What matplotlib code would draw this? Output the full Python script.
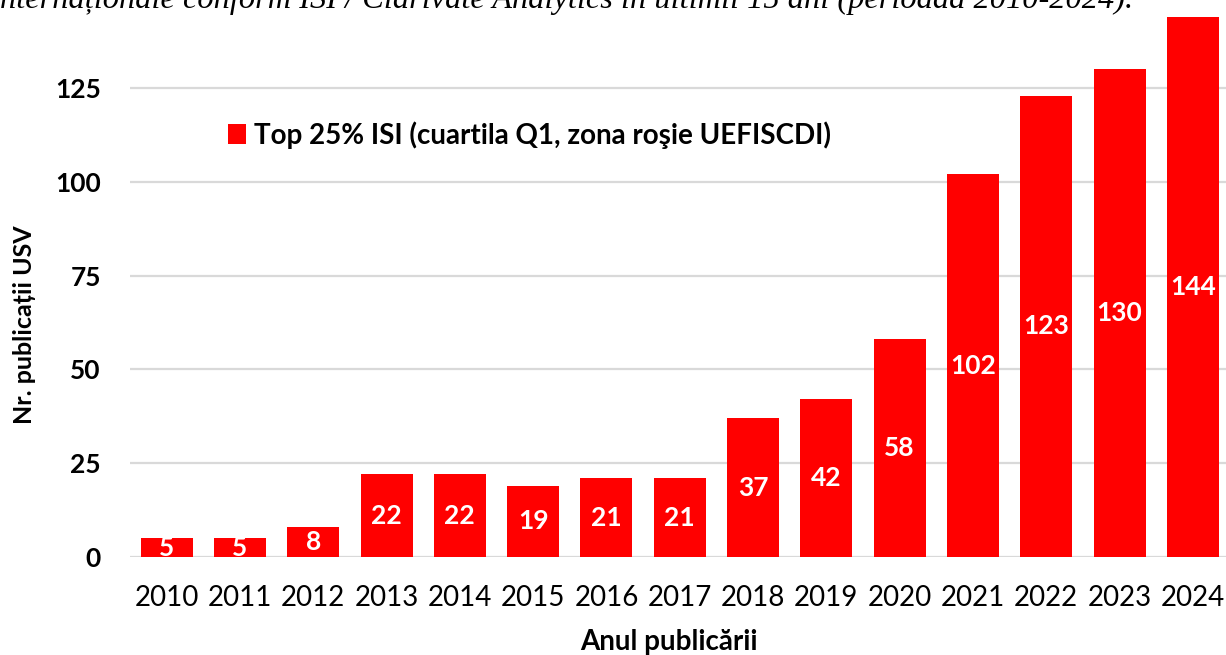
import matplotlib.pyplot as plt

# date: publicatii USV in top 25% ISI, pe ani
ani = ["2010", "2011", "2012", "2013", "2014", "2015", "2016", "2017",
       "2018", "2019", "2020", "2021", "2022", "2023", "2024"]
publicatii = [5, 5, 8, 22, 22, 19, 21, 21, 37, 42, 58, 102, 123, 130, 144]
yticks = [0, 25, 50, 75, 100, 125]

plt.rcParams['font.family'] = ['Lato', 'DejaVu Sans']

fig = plt.figure(figsize=(12.26, 6.55), dpi=100)
ax = fig.add_axes([130 / 1226, 98 / 655, 1099.5 / 1226, 557 / 655])

bars = ax.bar(range(len(ani)), publicatii, width=0.71, color="#ff0000",
              label="Top 25% ISI (cuartila Q1, zona roşie UEFISCDI)", zorder=3)
ax.bar_label(bars, labels=[str(v) for v in publicatii], label_type="center",
             color="white", fontsize=19, fontweight="bold")

ax.set_xlim(-0.5, len(ani) - 0.5)
ax.set_ylim(0, 557 / 3.752)
ax.set_yticks(yticks)
ax.set_xticks(range(len(ani)))
ax.set_xticklabels(ani, fontsize=20)
ax.tick_params(axis="y", labelsize=19, length=0, pad=21)
ax.tick_params(axis="x", length=0, pad=20)
for lab in ax.get_yticklabels():
    lab.set_fontweight("bold")
ax.grid(axis="y", color="#d9d9d9", linewidth=1.6, zorder=0)
for s in ax.spines.values():
    s.set_visible(False)

ax.legend(loc="center left", bbox_to_anchor=(0.089, 0.758), frameon=False,
          prop={"size": 20, "weight": "bold"}, handlelength=0.65,
          handleheight=0.75, handletextpad=0.3, borderpad=0, borderaxespad=0)

fig.text(25 / 1226, 1 - 325 / 655, "Nr. publicații USV", rotation=90,
         ha="center", va="center", fontsize=18, fontweight="bold")
fig.text(669 / 1226, 1 - 642 / 655, "Anul publicării", ha="center",
         va="center", fontsize=20, fontweight="bold")
fig.text(-9 / 1226, 1 - 8 / 655,
         "internaționale conform ISI / Clarivate Analytics în ultimii 15 ani (perioada 2010-2024).",
         ha="left", va="baseline", fontsize=23.3, style="italic",
         family=["Liberation Serif", "DejaVu Serif"])

fig.savefig("out.png", dpi=100)
